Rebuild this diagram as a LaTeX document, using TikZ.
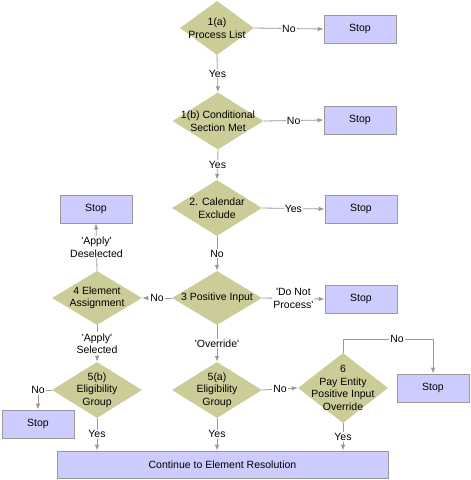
\documentclass[tikz,border=0pt]{standalone}
\usepackage{fontspec}
\setmainfont{Liberation Sans}
\usetikzlibrary{shapes.geometric, arrows.meta}
\definecolor{Khaki}{HTML}{CCCC99}
\definecolor{Lilac}{HTML}{CCCCFF}
\definecolor{Line}{HTML}{999999}
\newcommand{\sq}[1]{\textquotesingle#1\textquotesingle}

\begin{document}
\begin{tikzpicture}[x=1pt,y=-1pt,
    every node/.style={font=\fontsize{10.5}{12.5}\selectfont},
    dec/.style={diamond,fill=Khaki,inner sep=0pt,minimum width=90pt,minimum height=56pt},
    stopbox/.style={rectangle,draw=Line,fill=Lilac,line width=0.8pt,minimum width=72pt,minimum height=28pt},
    lab/.style={fill=white,inner sep=1pt,align=center},
    arr/.style={draw=Line,line width=0.8pt,-{Latex[length=6pt,width=4.5pt]}},
    ln/.style={draw=Line,line width=0.8pt}]
  \useasboundingbox (0,0) rectangle (471,480);
  % decisions
  \node[dec,minimum width=74pt,minimum height=54pt] (d1a) at (217,28) {};
  \node[align=center] at (d1a) {1(a)\\Process List};
  \node[dec,minimum width=91pt,minimum height=57pt] (d1b) at (218,121) {};
  \node[align=center] at (d1b) {1(b) Conditional\\Section Met};
  \node[dec] (d2) at (217,208) {};
  \node[align=center] at (d2) {2. Calendar\\Exclude};
  \node[dec,minimum height=54pt] (d3) at (217,298) {};
  \node[align=center] at (d3) {3 Positive Input};
  \node[dec,minimum height=54pt] (d4) at (97,298) {};
  \node[align=center] at (d4) {4 Element\\Assignment};
  \node[dec] (d5b) at (97,390) {};
  \node[align=center] at (d5b) {5(b)\\Eligibility\\Group};
  \node[dec] (d5a) at (217,390) {};
  \node[align=center] at (d5a) {5(a)\\Eligibility\\Group};
  \node[dec,minimum height=70pt] (d6) at (343,388) {};
  \node[align=center] at (d6) {6\\Pay Entity\\Positive Input\\Override};
  % stops
  \node[stopbox] (s1) at (360,29) {Stop};
  \node[stopbox] (s2) at (360,120) {Stop};
  \node[stopbox] (s3) at (361,209) {Stop};
  \node[stopbox] (s4) at (361,299) {Stop};
  \node[stopbox] (s4l) at (96,209) {Stop};
  \node[stopbox] (s5) at (38,424) {Stop};
  \node[stopbox] (s6) at (433,388) {Stop};
  \node[stopbox,minimum width=331pt,minimum height=27pt] (cont) at (222.5,464.5) {Continue to Element Resolution};
  \coordinate (c6) at (343,339);
  % connectors
  \draw[arr] (d1a.east) -- node[lab]{No} (s1.west);
  \draw[arr] (d1a.south) -- node[lab]{Yes} (d1b.north);
  \draw[arr] (d1b.east) -- node[lab]{No} (s2.west);
  \draw[arr] (d1b.south) -- node[lab]{Yes} (d2.north);
  \draw[arr] (d2.east) -- node[lab]{Yes} (s3.west);
  \draw[arr] (d2.south) -- node[lab]{No} (d3.north);
  \draw[arr] (d3.east) -- node[lab]{\textquotesingle Do Not\\Process\textquotesingle} (s4.west);
  \draw[arr] (d3.west) -- node[lab]{No} (d4.east);
  \draw[arr] (d4.north) -- node[lab]{\sq{Apply}\\Deselected} (s4l.south);
  \draw[arr] (d4.south) -- node[lab]{\sq{Apply}\\Selected} (d5b.north);
  \draw[arr] (d3.south) -- node[lab]{\sq{Override}} (d5a.north);
  \draw[arr] (d5b.west) -| node[pos=0.5,lab]{No} (s5.north);
  \draw[arr] (d5b.south) -- node[lab]{Yes} (d5b.south |- cont.north);
  \draw[arr] (d5a.south) -- node[lab]{Yes} (d5a.south |- cont.north);
  \draw[arr] (d5a.east) -- node[lab]{No} (d6.west);
  \draw[ln] (d6.north) -- (c6);
  \draw[arr] (c6) -| node[pos=0.3,lab]{No} (s6.north);
  \draw[arr] (d6.south) -- node[lab]{Yes} (d6.south |- cont.north);
\end{tikzpicture}
\end{document}
